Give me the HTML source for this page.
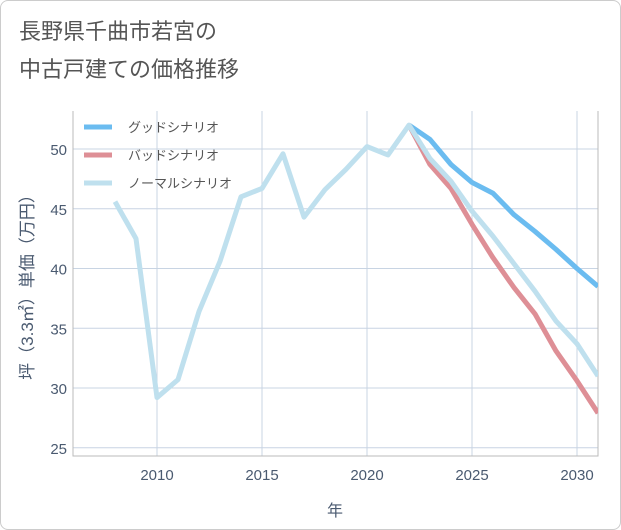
<!DOCTYPE html>
<html><head><meta charset="utf-8"><style>
body{margin:0;background:#fff;font-family:"Liberation Sans","Noto Sans CJK JP",sans-serif;}
#wrap{position:relative;width:619px;height:528px;border:1px solid #ccc;border-radius:8px;overflow:hidden;}
</style></head><body>
<div id="wrap">
<svg id="chart" width="621" height="530">
<text x="18" y="38" font-size="22" fill="#555">長野県千曲市若宮の</text>
<text x="18" y="76" font-size="22" fill="#555">中古戸建ての価格推移</text>
<g id="grid"></g><g id="lines"></g><g id="legend"></g>
<text x="334" y="515" font-size="16" fill="#4a5a70" text-anchor="middle">年</text>
<text transform="translate(32,282) rotate(-90)" font-size="17" fill="#4a5a70" text-anchor="middle">坪（3.3㎡）単価（万円）</text>
</svg></div>
<script>
const years=[2008,2009,2010,2011,2012,2013,2014,2015,2016,2017,2018,2019,2020,2021,2022,2023,2024,2025,2026,2027,2028,2029,2030,2031];
const normal=[45.6,42.5,29.2,30.7,36.4,40.6,46.0,46.7,49.6,44.3,46.6,48.3,50.2,49.5,52.0,49.2,47.3,44.8,42.7,40.4,38.1,35.6,33.7,31.0];
const futureYears=[2022,2023,2024,2025,2026,2027,2028,2029,2030,2031];
const good=[52.0,50.8,48.7,47.2,46.3,44.5,43.1,41.6,40.0,38.5];
const bad=[52.0,48.7,46.7,43.7,40.9,38.4,36.2,33.1,30.6,27.9];
const xTicks=[2010,2015,2020,2025,2030];
const yTicks=[25,30,35,40,45,50];
const NS='http://www.w3.org/2000/svg';
const L=72,R=597,T=110,B=455;
const X=v=>156+(v-2010)*21;
const Y=v=>148+(50-v)*11.95;
function mk(t,a,p){const e=document.createElementNS(NS,t);for(const k in a)e.setAttribute(k,a[k]);p.appendChild(e);return e;}
const grid=document.getElementById('grid');
xTicks.forEach(t=>{const l=mk('line',{x1:X(t),x2:X(t),y1:T,y2:B,stroke:'#c8d4e3','stroke-width':1},grid);

const tx=mk('text',{x:X(t),y:B+24,'font-size':15,fill:'#4a5a70','text-anchor':'middle'},grid);tx.textContent=t;
});
yTicks.forEach(t=>{const l=mk('line',{x1:L,x2:R,y1:Y(t),y2:Y(t),stroke:'#c8d4e3','stroke-width':1},grid);

const tx=mk('text',{x:L-6,y:Y(t)+6,'font-size':15,fill:'#4a5a70','text-anchor':'end'},grid);tx.textContent=t;
});
const ax=mk('path',{d:`M${L},${T}V${B}H${R}V${T}`,fill:'none',stroke:'#bbb','stroke-width':1},grid);

const lines=document.getElementById('lines');
const cp=mk('clipPath',{id:'cp'},lines);mk('rect',{x:L,y:T,width:R-L,height:B-T},cp);
function series(xs,ys,c,n){const p=mk('polyline',{points:xs.map((x,i)=>X(x)+','+Y(ys[i])).join(' '),fill:'none',stroke:c,'stroke-width':5,'stroke-linejoin':'round','clip-path':'url(#cp)'},lines);
}
series(futureYears,good,'#6bbcf0','good-scenario-line');
series(futureYears,bad,'#de8f96','bad-scenario-line');
series(years,normal,'#bfe0ee','normal-scenario-line');
const lg=document.getElementById('legend');
[['グッドシナリオ','#6bbcf0'],['バッドシナリオ','#de8f96'],['ノーマルシナリオ','#bfe0ee']].forEach((d,i)=>{
const y=126+i*28;const g=mk('g',{},lg);
mk('line',{x1:83,x2:111,y1:y,y2:y,stroke:d[1],'stroke-width':5},g);
const t=mk('text',{x:127,y:y+5,'font-size':13,fill:'#555'},g);t.textContent=d[0];});
</script></body></html>
